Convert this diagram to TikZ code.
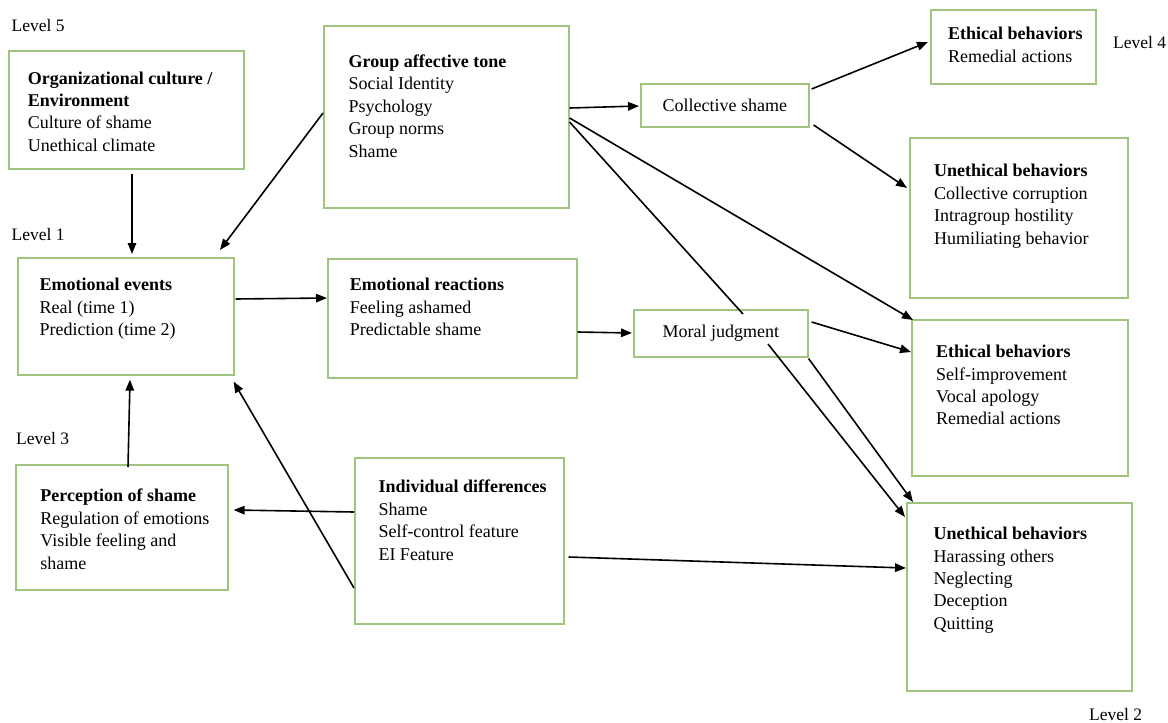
\documentclass[tikz,border=0pt]{standalone}
\usepackage{fontspec}
\setmainfont{Liberation Serif}
\usetikzlibrary{arrows.meta,calc}
\definecolor{boxgreen}{RGB}{160,196,128}
\begin{document}
\begin{tikzpicture}[x=1pt,y=-1pt,
  box/.style={draw=boxgreen,line width=1.6pt,fill=white,anchor=north west,inner sep=0pt},
  txt/.style={anchor=north west,inner sep=0pt,align=left,font=\fontsize{18}{22.4}\selectfont},
  ctxt/.style={inner sep=0pt,font=\fontsize{18}{22.4}\selectfont},
  lbl/.style={anchor=base west,inner sep=0pt,font=\fontsize{17.5}{22.4}\selectfont},
  arr/.style={line width=1.6pt,-{Triangle[length=11pt,width=8.5pt]}},
  ln/.style={line width=1.6pt}]
\useasboundingbox (0,0) rectangle (1168,723);
\fill[white] (0,0) rectangle (1168,723);

% boxes
\node[box,minimum width=235pt,minimum height=118pt] (org) at (8,50) {};
\node[box,minimum width=245pt,minimum height=182pt] (gat) at (323,25) {};
\node[box,minimum width=216pt,minimum height=117pt] (ev) at (17,257) {};
\node[box,minimum width=249pt,minimum height=119pt] (er) at (327,258) {};
\node[box,minimum width=168pt,minimum height=43pt] (cs) at (640,83) {};
\node[box,minimum width=165pt,minimum height=74pt] (eth1) at (930,9) {};
\node[box,minimum width=218pt,minimum height=160pt] (uneth1) at (909,137) {};
\node[box,minimum width=174pt,minimum height=47pt] (mj) at (633,309) {};
\node[box,minimum width=216pt,minimum height=156pt] (eth2) at (911,319) {};
\node[box,minimum width=225pt,minimum height=188pt] (uneth2) at (906,502) {};
\node[box,minimum width=212pt,minimum height=125pt] (per) at (15,464) {};
\node[box,minimum width=209pt,minimum height=166pt] (ind) at (354,457) {};

% texts
\node[txt] (orgt) at (27.6,68.3) {\strut\textbf{Organizational culture /}\\\textbf{Environment}\\Culture of shame\\Unethical climate};
\node[txt] (gatt) at (348.5,51.6) {\strut\textbf{Group affective tone}\\Social Identity\\Psychology\\Group norms\\Shame};
\node[txt] (evt) at (39.4,275) {\strut\textbf{Emotional events}\\Real (time 1)\\Prediction (time 2)};
\node[txt] (ert) at (349.7,275) {\strut\textbf{Emotional reactions}\\Feeling ashamed\\Predictable shame};
\node[ctxt] (cst) at (cs.center) {Collective shame};
\node[txt] (eth1t) at (947.8,23.8) {\strut\textbf{Ethical behaviors}\\Remedial actions};
\node[txt] (uneth1t) at (934,161) {\strut\textbf{Unethical behaviors}\\Collective corruption\\Intragroup hostility\\Humiliating behavior};
\node[ctxt] (mjt) at (mj.center) {Moral judgment};
\node[txt] (eth2t) at (936,341.8) {\strut\textbf{Ethical behaviors}\\Self-improvement\\Vocal apology\\Remedial actions};
\node[txt] (uneth2t) at (933.5,523.8) {\strut\textbf{Unethical behaviors}\\Harassing others\\Neglecting\\Deception\\Quitting};
\node[txt] (pert) at (40.2,486) {\strut\textbf{Perception of shame}\\Regulation of emotions\\Visible feeling and\\shame};
\node[txt] (indt) at (378.3,477) {\strut\textbf{Individual differences}\\Shame\\Self-control feature\\EI Feature};

% level labels
\node[lbl] (l5) at (11.5,31.5) {Level 5};
\node[lbl] (l1) at (11.5,240) {Level 1};
\node[lbl] (l3) at (16,444) {Level 3};
\node[lbl] (l4) at (1113,48.3) {Level 4};
\node[lbl] (l2) at (1089,720) {Level 2};

% helper coordinates for the line passing behind Moral judgment
\coordinate (mjin) at ($(mj.north west)+(110,5)$);
\coordinate (mjout) at ($(mj.north west)+(135,35)$);

% connectors
\draw[arr] ($(org.south west)+(124,4)$) -- ($(ev.north west)+(115,-3)$);
\draw[arr] ($(gat.north west)+(0,88)$) -- ($(ev.north west)+(203,-7)$);
\draw[arr] ($(ev.north east)+(1,42)$) -- ($(er.north west)+(0,40)$);
\draw[arr] ($(er.north east)+(0,74)$) -- ($(mj.north west)+(-1,24)$);
\draw[arr] ($(gat.north east)+(0,83)$) -- ($(cs.north west)+(-1,23)$);
\draw[arr] ($(cs.north east)+(2,6)$) -- ($(eth1.north west)+(-2,33)$);
\draw[arr] ($(cs.north east)+(4,42)$) -- ($(uneth1.north west)+(-2,51)$);
\draw[arr] ($(gat.north east)+(0,93)$) -- ($(eth2.north west)+(2,1)$);
\draw[ln] ($(gat.north east)+(0,97)$) -- (mjin);
\draw[arr] (mjout) -- ($(uneth2.north west)+(-1,15)$);
\draw[arr] ($(mj.north east)+(3,13)$) -- ($(eth2.north west)+(0,33)$);
\draw[arr] ($(mj.south east)+(0,1)$) -- ($(uneth2.north west)+(7,0)$);
\draw[arr] ($(ind.north west)+(0,55)$) -- ($(per.north east)+(5,46)$);
\draw[arr] ($(ind.north west)+(0,131)$) -- ($(ev.south east)+(-1,6)$);
\draw[arr] ($(per.north west)+(113,3)$) -- ($(ev.south west)+(113,4)$);
\draw[arr] ($(ind.north east)+(4,100)$) -- ($(uneth2.north west)+(0,66)$);
\end{tikzpicture}
\end{document}
